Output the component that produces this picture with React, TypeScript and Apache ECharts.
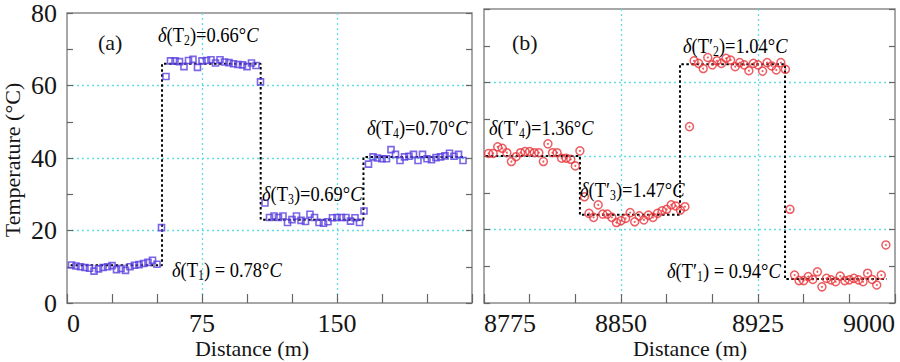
import React, { useEffect, useRef } from 'react';
import * as echarts from 'echarts';

// ---------- data ----------
const distA = [2.5, 5, 7.5, 10, 12.5, 15, 17.5, 20, 22.5, 25, 27.5, 30, 32.5, 35, 37.5, 40, 42.5, 45, 47.5, 50,
  52.5, 55,
  57.5, 60, 62.5, 65, 67.5, 70, 72.5, 75, 77.5, 80, 82.5, 85, 87.5, 90, 92.5, 95, 97.5, 100, 102.5, 105,
  107.5, 110,
  112.5, 115, 117.5, 120, 122.5, 125, 127.5, 130, 132.5, 135, 137.5, 140, 142.5, 145, 147.5, 150, 152.5, 155, 157.5, 160, 162.5,
  165, 167.5,
  170, 172.5, 175, 177.5, 180, 182.5, 185, 187.5, 190, 192.5, 195, 197.5, 200, 202.5, 205, 207.5, 210, 212.5, 215, 217.5, 220];
const tempA = [10.5, 10.2, 10.0, 9.8, 9.6, 8.8, 9.4, 9.8, 10.0, 10.3, 9.2, 9.5, 9.0, 10.0, 10.4, 10.6, 10.9, 11.2, 11.8, 10.7,
  20.8, 62.5,
  66.8, 66.8, 66.6, 65.2, 66.9, 67.2, 65.0, 66.8, 66.9, 67.1, 66.2, 67.1, 66.5, 66.3, 66.0, 65.8, 65.7, 65.2, 66.2, 65.5,
  61.0, 27.6,
  23.6, 24.0, 23.6, 24.0, 22.2, 23.0, 24.0, 22.8, 22.5, 24.5, 23.6, 22.2, 22.0, 22.4, 23.5, 23.6, 23.6, 23.6, 22.6, 23.5, 22.2,
  25.4, 38.3,
  40.3, 40.0, 39.8, 39.8, 42.3, 41.0, 39.3, 40.3, 40.5, 41.0, 39.3, 41.0, 39.8, 39.5, 40.1, 40.3, 40.6, 41.3, 40.5, 41.0, 39.3];
const stepAx = [2, 52.8, 52.8, 107.6, 107.6, 164.7, 164.7, 221];
const stepAy = [10.4, 10.4, 66, 66, 23, 23, 40.3, 40.3];

const distB = [8777.5, 8780, 8782.5, 8785, 8787.5, 8790, 8792.5, 8795, 8797.5, 8800, 8802.5, 8805, 8807.5, 8810, 8812.5, 8815, 8817.5, 8820, 8822.5, 8825, 8827.5,
  8830,
  8832.5, 8835, 8837.5, 8840, 8842.5, 8845, 8847.5, 8850, 8852.5, 8855, 8857.5, 8860, 8862.5, 8865, 8867.5, 8870, 8872.5, 8875, 8877.5, 8880, 8882.5, 8885,
  8887.5,
  8890, 8892.5, 8895, 8897.5, 8900, 8902.5, 8905, 8907.5, 8910, 8912.5, 8915, 8917.5, 8920, 8922.5, 8925, 8927.5, 8930, 8932.5, 8935, 8937.5, 8940,
  8942.5,
  8945, 8947.5, 8950, 8952.5, 8955, 8957.5, 8960, 8962.5, 8965, 8967.5, 8970, 8972.5, 8975, 8977.5, 8980, 8982.5, 8985, 8987.5, 8990, 8992.5, 8995];
const tempB = [40.7, 40.7, 42.5, 42.1, 40.9, 38.5, 39.8, 40.9, 41.2, 41.2, 40.9, 40.9, 38.5, 43.3, 40.9, 40.9, 39.4, 39.4, 39.1, 37.3, 41.4,
  28.9,
  24.4, 23.3, 26.7, 24.2, 24.2, 23.3, 21.9, 22.4, 23.0, 24.6, 22.1, 23.7, 22.6, 23.9, 23.3, 24.4, 25.1, 25.5, 26.7, 26.4, 25.3, 26.2,
  48.0,
  65.9, 65.2, 63.8, 66.8, 64.8, 65.9, 65.2, 66.6, 66.1, 64.3, 65.4, 64.8, 63.2, 65.2, 64.8, 63.1, 65.4, 64.5, 63.4, 65.4, 63.6,
  25.5,
  7.6, 6.1, 6.1, 7.2, 6.4, 8.5, 4.4, 6.7, 6.3, 5.8, 7.3, 6.1, 6.3, 6.7, 6.3, 5.8, 8.1, 6.4, 4.9, 7.6, 15.8];
const stepBx = [8776, 8827.5, 8827.5, 8882.3, 8882.3, 8939.8, 8939.8, 8995.5];
const stepBy = [40, 40, 24, 24, 65, 65, 6.5, 6.5];

const yTicks = [0, 20, 40, 60, 80];

// ---------- styles ----------
const serif = 'Liberation Serif';
const tickColor = '#666';
const gridColor = '#62dde3';
const LF = 26;

const zip = (xs: number[], ys: number[]) => xs.map((x, i) => [x, ys[i]]);

function xAxisPair(gridIndex: number, min: number, max: number, hideMax: boolean) {
  return [
    {
      type: 'value', gridIndex, min, max, interval: 75, position: 'bottom',
      axisLine: { show: false },
      axisTick: { show: true, inside: true, length: 9, lineStyle: { color: tickColor, width: 1.2 } },
      minorTick: { show: true, splitNumber: 3, length: 9, lineStyle: { color: tickColor, width: 1.2 } },
      splitLine: { show: true, showMinLine: false, showMaxLine: false, lineStyle: { color: gridColor, type: [2, 3], width: 1.3 } },
      axisLabel: {
        fontFamily: serif, fontSize: LF, color: '#151515', margin: 7,
        alignMinLabel: 'left', alignMaxLabel: 'right',
        formatter: (v: number) => (hideMax && v === max ? '' : String(v)),
      },
    },
  ];
}

function yAxisPair(gridIndex: number, showLabels: boolean) {
  const common = {
    type: 'value', gridIndex, min: yTicks[0], max: yTicks[yTicks.length - 1], interval: 20,
    axisLine: { show: false },
    axisTick: { show: true, inside: true, length: 6, lineStyle: { color: tickColor, width: 1.2 } },
    minorTick: { show: true, splitNumber: 2, length: 6, lineStyle: { color: tickColor, width: 1.2 } },
  };
  return [
    {
      ...common, position: 'left',
      splitLine: { show: true, showMinLine: false, showMaxLine: false, lineStyle: { color: gridColor, type: [2, 3], width: 1.3 } },
      axisLabel: { show: showLabels, fontFamily: serif, fontSize: LF, color: '#151515', margin: 10 },
    },
    {
      ...common, position: 'right',
      splitLine: { show: false },
      axisLabel: { show: false },
    },
  ];
}

const AF = 22;
const rich = {
  d: { fontFamily: serif, fontSize: AF, fontStyle: 'italic', color: '#111', lineHeight: 26 },
  n: { fontFamily: serif, fontSize: AF, color: '#111', lineHeight: 26 },
  s: { fontFamily: serif, fontSize: 14, color: '#111', lineHeight: 14, verticalAlign: 'bottom' },
  c: { fontFamily: serif, fontSize: AF, fontStyle: 'italic', color: '#111', lineHeight: 26 },
};

const annot = (x: number, y: number, sub: string, prime: boolean, tail: string) => ({
  type: 'text', x, y, z: 100, scaleX: 0.84,
  style: {
    text: `{d|δ}{n|(T${prime ? '′' : ''}}{s|${sub}}{n|${tail}}{c|C}`,
    rich, align: 'left', verticalAlign: 'middle',
  },
});

const plainText = (x: number, y: number, text: string, size: number, rotation = 0, align = 'center') => ({
  type: 'text', x, y, rotation, z: 100,
  style: { text, fontFamily: serif, fontSize: size, fill: '#151515', align, verticalAlign: 'middle' },
});

export default function App() {
  const ref = useRef<HTMLDivElement>(null);
  useEffect(() => {
    if (!ref.current) return;
    const chart = echarts.init(ref.current, undefined, { renderer: 'svg' });
    const blue = '#5a3fe0';
    const red = '#e8343a';
    chart.setOption({
      animation: false,
      backgroundColor: '#fff',
      grid: [
        { left: 67, top: 9, width: 405, height: 294, show: true, borderColor: '#8a8a8a', borderWidth: 1.5, backgroundColor: 'transparent' },
        { left: 484, top: 9, width: 411, height: 294, show: true, borderColor: '#8a8a8a', borderWidth: 1.5, backgroundColor: 'transparent' },
      ],
      xAxis: [...xAxisPair(0, 0, 225, true), ...xAxisPair(1, 8775, 9000, false)],
      yAxis: [...yAxisPair(0, true), ...yAxisPair(1, false)],
      series: [
        {
          type: 'line', xAxisIndex: 0, yAxisIndex: 0, data: zip(stepAx, stepAy), symbol: 'none', z: 3,
          lineStyle: { color: '#000', type: [2.5, 2.5], width: 2 },
        },
        {
          type: 'scatter', xAxisIndex: 0, yAxisIndex: 0, data: zip(distA, tempA), symbol: 'rect', symbolSize: 6, z: 4,
          itemStyle: { color: 'rgba(0,0,0,0)', borderColor: blue, borderWidth: 1.6 },
        },
        {
          type: 'line', xAxisIndex: 1, yAxisIndex: 2, data: zip(stepBx, stepBy), symbol: 'none', z: 3,
          lineStyle: { color: '#000', type: [2.5, 2.5], width: 2 },
        },
        {
          type: 'scatter', xAxisIndex: 1, yAxisIndex: 2, data: zip(distB, tempB), symbol: 'circle', symbolSize: 8, z: 4,
          itemStyle: { color: 'rgba(0,0,0,0)', borderColor: red, borderWidth: 1.5 },
        },
        {
          type: 'scatter', xAxisIndex: 1, yAxisIndex: 2, data: zip(distB, tempB), symbol: 'circle', symbolSize: 2, z: 4,
          itemStyle: { color: red },
        },
      ],
      graphic: [
        plainText(12, 160, 'Temperature (°C)', 22, Math.PI / 2),
        plainText(252, 348, 'Distance (m)', 22),
        plainText(690, 348, 'Distance (m)', 22),
        plainText(98, 42, '(a)', 22, 0, 'left'),
        plainText(512, 42, '(b)', 22, 0, 'left'),
        annot(158, 34, '2', false, ')=0.66°'),
        annot(172, 269, '1', false, ') = 0.78°'),
        annot(262, 193, '3', false, ')=0.69°'),
        annot(367, 127, '4', false, ')=0.70°'),
        annot(683, 45, '2', true, ')=1.04°'),
        annot(489, 127, '4', true, ')=1.36°'),
        annot(580, 189, '3', true, ')=1.47°'),
        annot(667, 270, '1', true, ') = 0.94°'),
      ],
    });
    return () => chart.dispose();
  }, []);
  return <div ref={ref} style={{ position: 'absolute', left: 0, top: 0, width: 900, height: 362 }} />;
}
